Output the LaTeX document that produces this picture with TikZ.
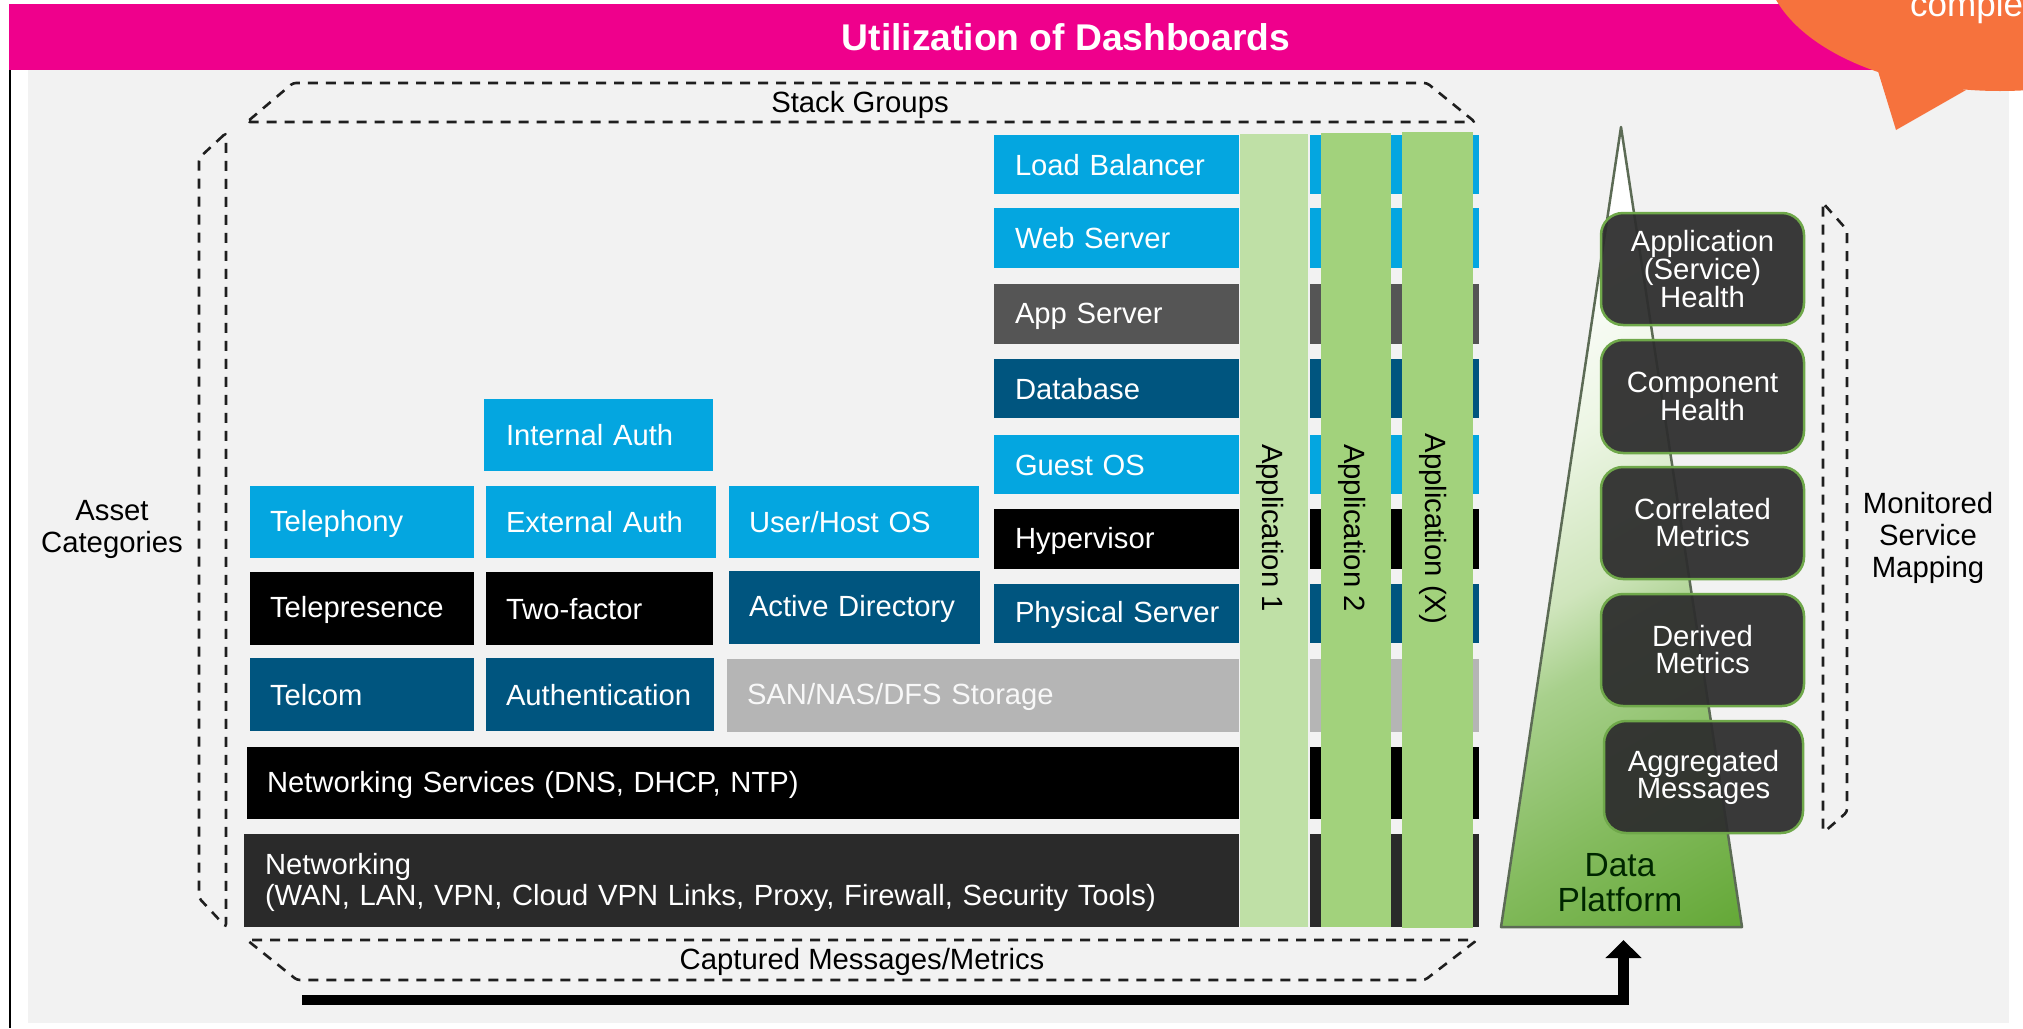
\documentclass[tikz,border=0pt]{standalone}
\usepackage{fontspec}
\setmainfont{Liberation Sans}
\usetikzlibrary{arrows.meta}
\definecolor{pinkbar}{HTML}{EF008C}
\definecolor{orangeb}{HTML}{F6723D}
\definecolor{panel}{HTML}{F2F2F2}
\definecolor{lblue}{HTML}{04A6E0}
\definecolor{dblue}{HTML}{00557F}
\definecolor{dgray}{HTML}{555555}
\definecolor{sgray}{HTML}{B5B5B5}
\definecolor{ngray}{HTML}{2A2A2A}
\definecolor{appa}{HTML}{BFE0A6}
\definecolor{appb}{HTML}{A2D27C}
\definecolor{boxd}{HTML}{2E2E2E}
\definecolor{boxg}{HTML}{6FA84A}
\definecolor{dpline}{HTML}{5C6B55}
\definecolor{dps}{HTML}{64A837}
\definecolor{dpm}{HTML}{84BB5E}
\definecolor{dpt}{HTML}{A8D08C}
\definecolor{dpu}{HTML}{CFE5BC}
\definecolor{dpv}{HTML}{EDF6E5}
\pgfdeclareverticalshading{dpshade}{100bp}{color(0bp)=(dps); color(15.85bp)=(dps); color(28.35bp)=(dpm); color(40.85bp)=(dpt); color(47bp)=(dpu); color(59bp)=(dpv); color(72bp)=(white); color(100bp)=(white)}
\newcommand{\upstrut}{\rule[-3.2pt]{0pt}{28pt}}
\tikzset{
  cell/.style={draw=none,inner ysep=0pt,outer sep=0pt,text=white,anchor=north west,align=left,
    font=\fontsize{29.2}{31}\selectfont},
  seg/.style={draw=none,inner sep=0pt,outer sep=0pt,anchor=north west},
  appbar/.style={draw=none,inner sep=0pt,outer sep=0pt,anchor=north west},
  applabel/.style={rotate=-90,inner sep=0pt,text=black,font=\fontsize{29.3}{31}\selectfont},
  mon/.style={draw=boxg,line width=2.5pt,fill=boxd,fill opacity=.94,text opacity=1,rounded corners=22pt,
    anchor=north west,inner sep=0pt,outer sep=0pt,text=white,align=center,font=\fontsize{29.3}{27}\selectfont},
  caption/.style={inner sep=0pt,text=black,align=center,font=\fontsize{29.3}{32}\selectfont},
  dashbox/.style={draw=black!88,line width=2.6pt,dash pattern=on 10pt off 8pt,rounded corners=3pt},
}
% name, x0, y0, x1, y1, colour, pad, text
\newcommand{\cellbox}[8]{%
  \pgfmathsetmacro{\cw}{#4-#2}\pgfmathsetmacro{\ch}{#5-#3}\pgfmathsetmacro{\tw}{#4-#2-2*#7}%
  \node[cell,fill=#6,inner xsep=#7pt,text width=\tw pt,minimum height=\ch pt] (#1) at (#2,#3) {\upstrut #8\upstrut};}
% name, y0, y1, colour
\newcommand{\rowpiece}[4]{%
  \pgfmathsetmacro{\cw}{169}\pgfmathsetmacro{\ch}{#3-#2}%
  \node[seg,fill=#4,minimum width=\cw pt,minimum height=\ch pt] (#1) at (1310,#2) {};}
\newcommand{\monbox}[6]{%
  \pgfmathsetmacro{\cw}{#4-#2}\pgfmathsetmacro{\ch}{#5-#3}%
  \node[mon,minimum width=\cw pt,minimum height=\ch pt] (#1) at (#2,#3) {#6};}
\begin{document}
\begin{tikzpicture}[x=1pt,y=-1pt]
\clip (0,0) rectangle (2023,1028);
\fill[white] (0,0) rectangle (2023,1028);
% panel and frame
\fill[panel] (28,70) rectangle (2009,1023);
\fill[black] (9,70) rectangle (11,1028);
% banner
\node[seg,fill=pinkbar,minimum width=1950pt,minimum height=66pt] (banner) at (9,4) {};
\node[inner sep=0pt,text=white,font=\fontsize{37.2}{40}\selectfont\bfseries] (title) at (1066,37) {Utilization of Dashboards};
% callout
\fill[orangeb] (2000,-40) ellipse [x radius=235, y radius=131];
\fill[orangeb] (1877,68) -- (1896,130) -- (1966,90) -- cycle;
\node[inner sep=0pt,text=white,anchor=base west,font=\fontsize{35}{38}\selectfont] (call) at (1910,16) {comple};
% dashed groups
\coordinate (sg1) at (247,122);\coordinate (sg2) at (293,83);\coordinate (sg3) at (1427,83);\coordinate (sg4) at (1475,122);
\draw[dashbox] (sg1) -- (sg2) -- (sg3) -- (sg4) -- cycle;
\coordinate (ac1) at (226,133);\coordinate (ac2) at (199,158);\coordinate (ac3) at (199,898);\coordinate (ac4) at (226,927);
\draw[dashbox] (ac1) -- (ac2) -- (ac3) -- (ac4) -- cycle;
\coordinate (cm1) at (247,940);\coordinate (cm2) at (297,980);\coordinate (cm3) at (1425,980);\coordinate (cm4) at (1477,940);
\draw[dashbox] (cm1) -- (cm2) -- (cm3) -- (cm4) -- cycle;
\coordinate (ms1) at (1823,203);\coordinate (ms2) at (1847,230);\coordinate (ms3) at (1847,812);\coordinate (ms4) at (1823,833);
\draw[dashbox] (ms1) -- (ms2) -- (ms3) -- (ms4) -- cycle;
% captions
\node[caption] (stackgroups) at (860,105) {Stack Groups};
\node[caption] (captured) at (862,962) {Captured Messages/Metrics};
\node[caption] (asset) at (112,529) {Asset\\Categories};
\node[caption] (monitored) at (1928,538) {Monitored\\Service\\Mapping};
% right-hand column rows
\cellbox{lb}{994}{135}{1239}{194}{lblue}{21}{Load Balancer}
\cellbox{web}{994}{208}{1239}{268}{lblue}{21}{Web Server}
\cellbox{app}{994}{284}{1239}{344}{dgray}{21}{App Server}
\cellbox{db}{994}{359}{1239}{418}{dblue}{21}{Database}
\cellbox{guest}{994}{435}{1239}{494}{lblue}{21}{Guest OS}
\cellbox{hyp}{994}{509}{1239}{569}{black}{21}{Hypervisor}
\cellbox{phys}{994}{584}{1239}{643}{dblue}{21}{\mbox{Physical Server}}
% lower blocks
\cellbox{iauth}{484}{399}{713}{471}{lblue}{22}{Internal Auth}
\cellbox{tel}{250}{486}{474}{558}{lblue}{20}{Telephony}
\cellbox{eauth}{486}{486}{716}{558}{lblue}{20}{External Auth}
\cellbox{uhos}{729}{486}{979}{558}{lblue}{20}{User/Host OS}
\cellbox{tp}{250}{572}{474}{645}{black}{20}{Telepresence}
\cellbox{tf}{486}{572}{713}{645}{black}{20}{Two-factor}
\cellbox{ad}{729}{571}{980}{644}{dblue}{20}{Active Directory}
\cellbox{tc}{250}{658}{474}{731}{dblue}{20}{Telcom}
\cellbox{au}{486}{658}{714}{731}{dblue}{20}{Authentication}
\node[cell,fill=sgray,text=white!90!sgray,inner xsep=20pt,text width=472pt,minimum height=73pt] (san) at (727,659) {\upstrut SAN/NAS/DFS Storage\upstrut};
\cellbox{svc}{247}{747}{1239}{819}{black}{20}{Networking Services (DNS, DHCP, NTP)}
\cellbox{net}{244}{834}{1239}{927}{ngray}{21}{Networking\\(WAN, LAN, VPN, Cloud VPN Links, Proxy, Firewall, Security Tools)}
% row continuations behind the application bars
\rowpiece{lbr}{135}{194}{lblue}
\rowpiece{webr}{208}{268}{lblue}
\rowpiece{appr}{284}{344}{dgray}
\rowpiece{dbr}{359}{418}{dblue}
\rowpiece{guestr}{435}{494}{lblue}
\rowpiece{hypr}{509}{569}{black}
\rowpiece{physr}{584}{643}{dblue}
\rowpiece{sanr}{659}{732}{sgray}
\rowpiece{svcr}{747}{819}{black}
\rowpiece{netr}{834}{927}{ngray}
% application bars
\node[appbar,fill=appa,minimum width=68pt,minimum height=793pt] (a1) at (1240,134) {};
\node[appbar,fill=appb,minimum width=70pt,minimum height=794pt] (a2) at (1321,133) {};
\node[appbar,fill=appb,minimum width=71pt,minimum height=796pt] (a3) at (1402,132) {};
\node[applabel] (a1t) at (1270,528) {Application 1};
\node[applabel] (a2t) at (1352,528) {Application 2};
\node[applabel] (a3t) at (1433,529) {Application (X)};
% data platform triangle
\coordinate (dpa) at (1621,127);\coordinate (dpl) at (1501,927);\coordinate (dpr) at (1742,927);
\shade[shading=dpshade,shading angle=30] (dpa) -- (dpl) -- (dpr) -- cycle;
\draw[draw=dpline,line width=2.5pt,line join=round] (dpa) -- (dpl) -- (dpr) -- cycle;
\node[inner sep=0pt,align=center,text=black!85!green,font=\fontsize{33.5}{35}\selectfont] (dptext) at (1620,883) {Data\\Platform};
% monitored boxes
\monbox{m1}{1601}{213}{1804}{325}{Application\\(Service)\\Health}
\monbox{m2}{1601}{340}{1804}{453}{Component\\Health}
\monbox{m3}{1601}{467}{1804}{579}{Correlated\\Metrics}
\monbox{m4}{1601}{594}{1804}{706}{Derived\\Metrics}
\monbox{m5}{1604}{721}{1803}{833}{Aggregated\\Messages}
% thick arrow
\coordinate (flowstart) at (302,1000);\coordinate (flowend) at (1623.5,940);
\draw[line width=10.5pt,-{Triangle[length=18pt,width=35pt]}] (flowstart) -| (flowend);
\end{tikzpicture}
\end{document}
